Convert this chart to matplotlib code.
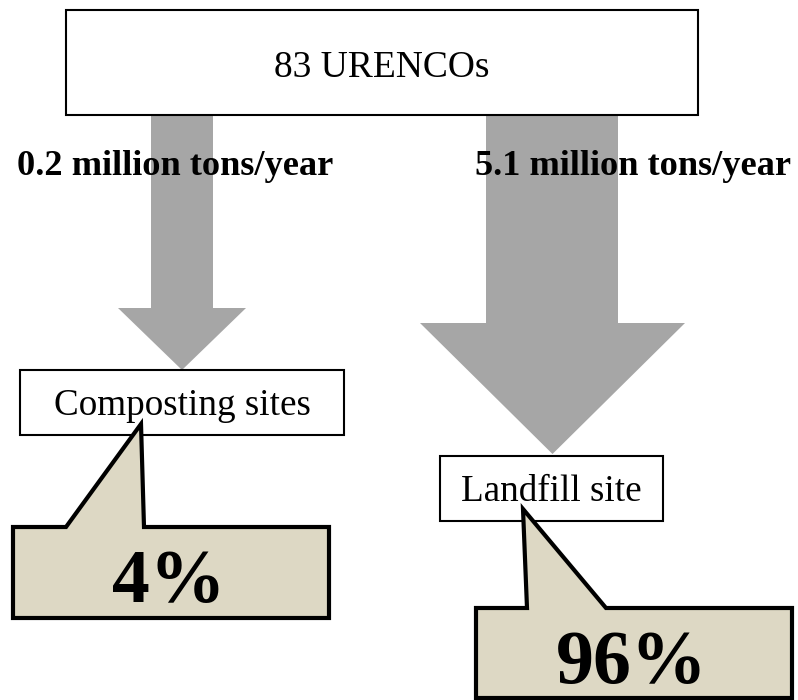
import matplotlib.pyplot as plt
from matplotlib.patches import Polygon, Rectangle

# data
source = "83 URENCOs"
destinations = ["Composting sites", "Landfill site"]
flows = [0.2, 5.1]          # million tons/year
shares = [4, 96]            # percent

# layout (pixels, y down)
src_box = (66, 10, 632, 105)
shaft = [(151, 213), (486, 618)]
head = [(118, 246), (420, 685)]
head_top = [308, 323]
tip_y = [370, 454]
flow_lbl = [(17, 175), (475, 175)]
dest_box = [(20, 370, 324, 65), (440, 456, 223, 65)]
dest_base = [415, 501]
call_box = [(13, 527, 316, 91), (476, 608, 316, 90)]
call_tip = [(141, 424), (523, 509)]
call_base = [(66, 144), (527, 606)]
pct_pos = [(169, 602), (632, 683)]

gray = "#a6a6a6"
tan = "#ddd8c4"
serif = ["Liberation Serif", "DejaVu Serif"]

fig = plt.figure(figsize=(7.98, 7.0), dpi=100)
ax = fig.add_axes([0, 0, 1, 1])
ax.set_xlim(0, 798)
ax.set_ylim(700, 0)
ax.axis("off")

# arrows
for i in range(2):
    x0, x1 = shaft[i]
    h0, h1 = head[i]
    pts = [(x0, src_box[1] + src_box[3]), (x1, src_box[1] + src_box[3]),
           (x1, head_top[i]), (h1, head_top[i]), ((h0 + h1) / 2, tip_y[i]),
           (h0, head_top[i]), (x0, head_top[i])]
    ax.add_patch(Polygon(pts, closed=True, fc=gray, ec="none", zorder=1))

# source box
x, y, w, h = src_box
ax.add_patch(Rectangle((x, y), w, h, fc="white", ec="black", lw=1.5, zorder=2))
ax.text(x + w / 2, 77, source, ha="center", va="baseline",
        family=serif, fontsize=27, zorder=3)

# flow labels
for (lx, ly), f in zip(flow_lbl, flows):
    ax.text(lx, ly, f"{f} million tons/year", ha="left", va="baseline",
            family=serif, fontsize=26.2, fontweight="bold", zorder=3)

# destination boxes
for (x, y, w, h), yb, name in zip(dest_box, dest_base, destinations):
    ax.add_patch(Rectangle((x, y), w, h, fc="white", ec="black", lw=1.5, zorder=2))
    ax.text(x + w / 2, yb, name, ha="center", va="baseline",
            family=serif, fontsize=26.7, zorder=3)

# callouts
for (x, y, w, h), (tx, ty), (b0, b1), (px, py), s in zip(
        call_box, call_tip, call_base, pct_pos, shares):
    pts = [(x, y), (b0, y), (tx, ty), (b1, y), (x + w, y), (x + w, y + h), (x, y + h)]
    ax.add_patch(Polygon(pts, closed=True, fc=tan, ec="black", lw=3,
                         joinstyle="miter", zorder=4))
    ax.text(px, py, f"{s}%", ha="center", va="baseline",
            family=serif, fontsize=54.5, fontweight="bold", zorder=5)

fig.savefig("out.png", dpi=100)
